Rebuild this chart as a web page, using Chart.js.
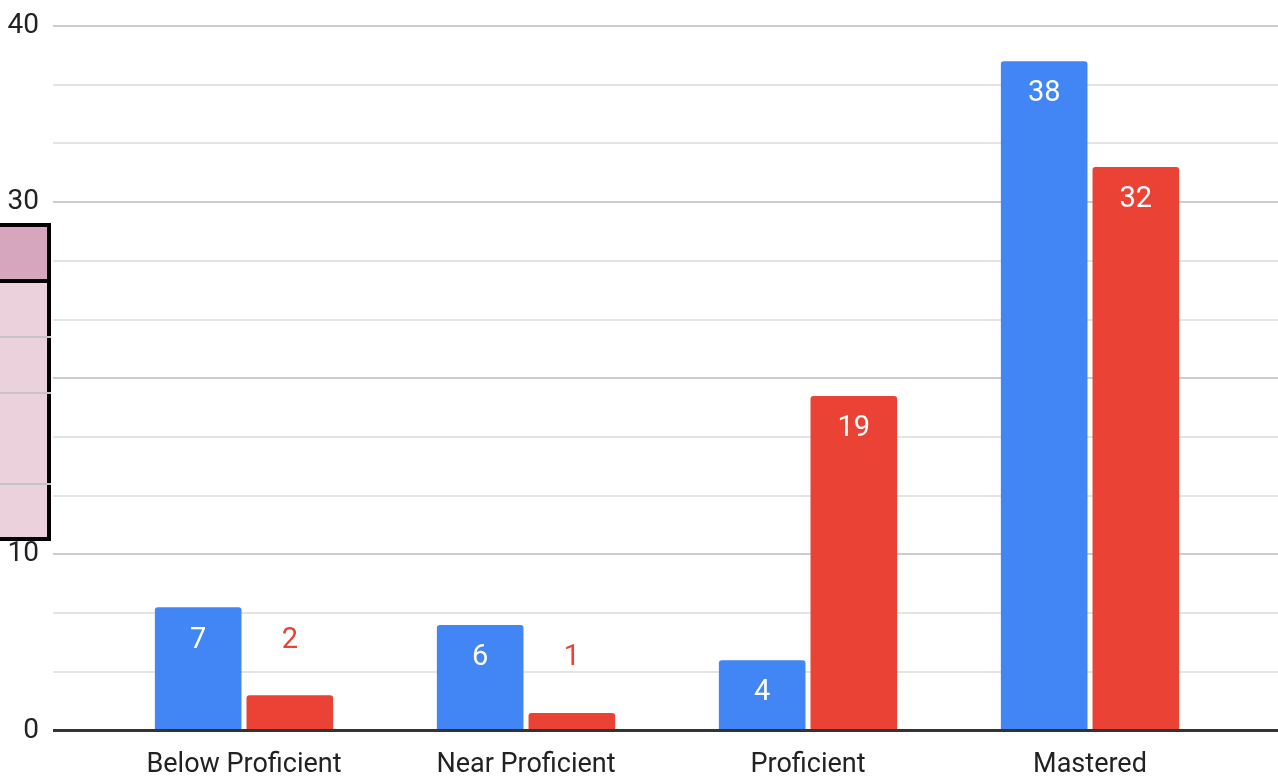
<!DOCTYPE html>
<html>
<head>
<meta charset="utf-8">
<script src="https://cdn.jsdelivr.net/npm/chart.js@4"></script>
<style>
  html, body { margin: 0; padding: 0; background: #fff; overflow: hidden; }
  #wrap { position: relative; width: 1278px; height: 780px; }
  .sheet { position: absolute; left: -4px; top: 223px; width: 55px; height: 318px;
           box-sizing: border-box; border: 4px solid #000; background: #ead1dc; }
  .sheet .head { position: absolute; left: 0; right: 0; top: 0; height: 52px;
                 background: #d5a6bd; border-bottom: 4px solid #000; }
  .sheet .row { position: absolute; left: 0; right: -4px; height: 2px; background: #c4c4c4; }
</style>
</head>
<body>
<div id="wrap">
  <canvas id="levelsChart" width="1278" height="780"></canvas>
  <div class="sheet">
    <div class="head"></div>
    <div class="row" style="top: 109px"></div>
    <div class="row" style="top: 165px"></div>
    <div class="row" style="top: 256px"></div>
  </div>
</div>
<script>
const categories = ['Below Proficient', 'Near Proficient', 'Proficient', 'Mastered'];
const blueCounts = [7, 6, 4, 38];
const redCounts = [2, 1, 19, 32];
const yLabels = [0, 10, 20, 30, 40];
const yMax = 40;
const gridStep = 10 / 3;

const BLUE = '#4285f4';
const RED = '#ea4335';
const FONT = "Roboto, 'Liberation Sans', Arial, sans-serif";

function isLabelled(value) {
  return yLabels.some(v => Math.abs(v - value) < 1e-6);
}

function gridColor(context) {
  const value = context.tick ? context.tick.value : null;
  if (value === null) return 'rgba(0,0,0,0)';
  if (Math.abs(value) < 1e-6) return '#333333';
  return isLabelled(value) ? '#cccccc' : '#e4e4e4';
}

function gridWidth(context) {
  const value = context.tick ? context.tick.value : 1;
  return Math.abs(value) < 1e-6 ? 3 : 2;
}

// y axes sit flush with the plot, no room reserved above the top label
function fitAxis(width) {
  return function(scale) {
    scale.width = width;
    scale.paddingTop = 0;
  };
}

// numbers on the bars: white inside tall bars, coloured above short ones
const valueLabels = {
  id: 'valueLabels',
  afterDatasetsDraw(chart) {
    const ctx = chart.ctx;
    ctx.save();
    ctx.font = '29px ' + FONT;
    ctx.textAlign = 'center';
    ctx.textBaseline = 'middle';
    chart.data.datasets.forEach((ds, i) => {
      const meta = chart.getDatasetMeta(i);
      meta.data.forEach((bar, j) => {
        const inside = bar.base - bar.y > 50;
        ctx.fillStyle = inside ? '#ffffff' : ds.backgroundColor;
        ctx.fillText(String(ds.data[j]), bar.x, inside ? bar.y + 33 : bar.y - 55);
      });
    });
    ctx.restore();
  }
};

const corners = { topLeft: 3, topRight: 3, bottomLeft: 0, bottomRight: 0 };

new Chart(document.getElementById('levelsChart').getContext('2d'), {
  type: 'bar',
  data: {
    labels: categories,
    datasets: [
      {
        label: 'Blue',
        data: blueCounts,
        backgroundColor: BLUE,
        borderRadius: corners,
        borderSkipped: 'start',
        categoryPercentage: 0.65,
        barPercentage: 0.945
      },
      {
        label: 'Red',
        data: redCounts,
        backgroundColor: RED,
        borderRadius: corners,
        borderSkipped: 'start',
        categoryPercentage: 0.65,
        barPercentage: 0.945
      }
    ]
  },
  options: {
    responsive: false,
    animation: false,
    layout: { padding: { top: 26, left: 0, right: 0, bottom: -19 } },
    plugins: {
      legend: { display: false },
      tooltip: { enabled: false }
    },
    scales: {
      x: {
        z: 1,
        offset: true,
        grid: { display: false, drawTicks: false },
        border: { display: true, color: '#333333', width: 2 },
        ticks: {
          color: '#222222',
          font: { family: FONT, size: 27 },
          padding: 18,
          maxRotation: 0,
          autoSkip: false
        }
      },
      y: {
        min: 0,
        max: yMax,
        afterFit: fitAxis(103),
        border: { display: false },
        grid: { color: gridColor, lineWidth: gridWidth, tickLength: 50 },
        ticks: {
          stepSize: gridStep,
          padding: 14,
          color: '#222222',
          font: { family: FONT, size: 28 },
          callback(value) { return isLabelled(value) ? String(Math.round(value)) : ''; }
        }
      },
      yRight: {
        position: 'right',
        min: 0,
        max: yMax,
        afterFit: fitAxis(47),
        border: { display: false },
        grid: { color: gridColor, lineWidth: gridWidth, tickLength: 47, drawOnChartArea: false },
        ticks: { stepSize: gridStep, display: false }
      }
    }
  },
  plugins: [valueLabels]
});
</script>
</body>
</html>
